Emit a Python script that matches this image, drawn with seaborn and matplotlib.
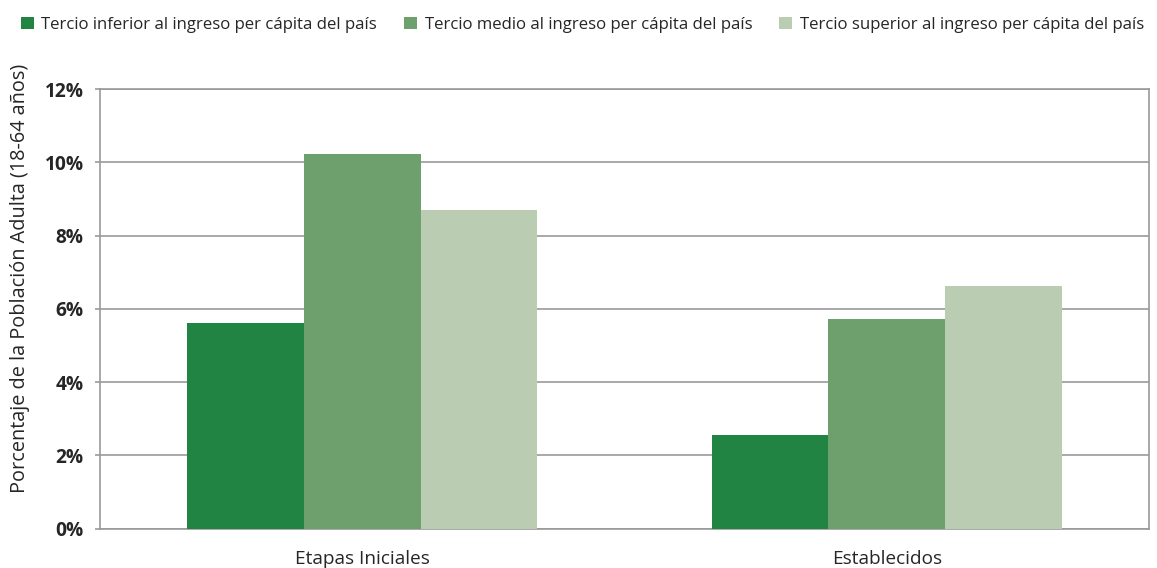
import numpy as np
import pandas as pd
import matplotlib.pyplot as plt
import seaborn as sns
from matplotlib.ticker import FuncFormatter

# Data
categories = ["Etapas Iniciales", "Establecidos"]
groups = [
    "Tercio inferior al ingreso per cápita del país",
    "Tercio medio al ingreso per cápita del país",
    "Tercio superior al ingreso per cápita del país",
]
inferior = [5.61, 2.55]
medio = [10.23, 5.72]
superior = [8.70, 6.63]
y_ticks = [0, 2, 4, 6, 8, 10, 12]

colors = ["#228442", "#6da06c", "#bacdb3"]

df = pd.DataFrame({
    "etapa": categories * 3,
    "tercio": [groups[0]] * 2 + [groups[1]] * 2 + [groups[2]] * 2,
    "valor": inferior + medio + superior,
})

sns.set_style("white")
plt.rcParams["font.family"] = ["Open Sans", "DejaVu Sans"]

fig = plt.figure(figsize=(11.57, 5.68), dpi=100)
ax = fig.add_axes([0.0864, 0.0695, 0.9067, 0.7738])

sns.barplot(data=df, x="etapa", y="valor", hue="tercio", order=categories,
            hue_order=groups, palette=colors, width=0.667, saturation=1,
            errorbar=None, linewidth=0, ax=ax, zorder=3)

ax.set_ylim(0, 12)
ax.set_xlim(-0.5, 1.5)
ax.set_yticks(y_ticks)
ax.yaxis.set_major_formatter(FuncFormatter(lambda v, p: f"{v:.0f}%"))
ax.grid(axis="y", color="#999999", linewidth=1.2, zorder=0)
ax.set_axisbelow(True)
for s in ax.spines.values():
    s.set_visible(True)
    s.set_color("#999999")
    s.set_linewidth(1.2)
ax.tick_params(axis="y", which="major", left=True, length=3.6, color="#999999",
               width=1.2, labelsize=13.8, pad=8)
ax.tick_params(axis="x", bottom=False, labelsize=13.7, pad=12)
for lbl in ax.get_yticklabels():
    lbl.set_fontweight("bold")
ax.set_xlabel("")
ax.set_ylabel("Porcentaje de la Población Adulta (18-64 años)", fontsize=14.3)
ax.yaxis.set_label_coords(-0.067, 0.57)

handles, labels = ax.get_legend_handles_labels()
ax.get_legend().remove()
fig.legend(handles, labels, loc="upper left", bbox_to_anchor=(0.005, 0.997),
           ncol=3, frameon=False, fontsize=12.1, handlelength=0.75,
           handleheight=0.75, handletextpad=0.47, columnspacing=1.6)

plt.savefig("out.png", dpi=100)
